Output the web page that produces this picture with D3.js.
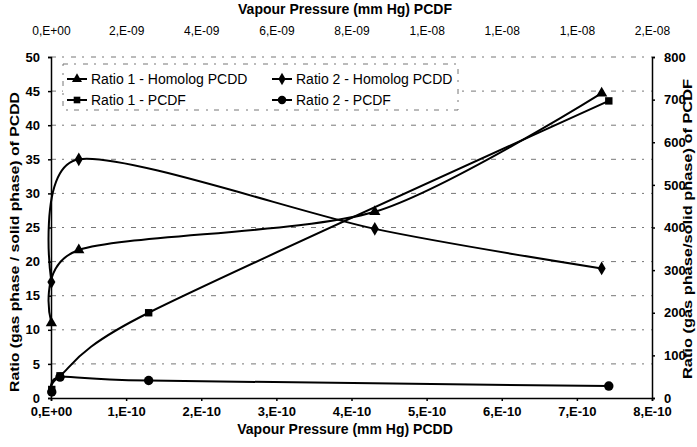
<!DOCTYPE html>
<html>
<head>
<meta charset="utf-8">
<script src="https://cdn.jsdelivr.net/npm/d3@7"></script>
<style>
body { margin: 0; background: #fff; }
text { font-family: "Liberation Sans", Arial, sans-serif; fill: #000; }
</style>
</head>
<body>
<div id="chart"></div>
<script>
//data
const pcddX = [0.005e-10, 0.37e-10, 4.31e-10, 7.33e-10];
const ratio1PCDD = [11, 21.7, 27.3, 44.7];
const ratio2PCDD = [17, 35, 24.8, 19];

const pcdfX = [0.02e-9, 0.24e-9, 2.6e-9, 14.85e-9];
const ratio1PCDF = [20, 52, 200, 697];
const ratio2PCDF = [14, 49, 41, 28];

const bottomTicks = [0, 1e-10, 2e-10, 3e-10, 4e-10, 5e-10, 6e-10, 7e-10, 8e-10];
const bottomLabels = ['0,E+00','1,E-10','2,E-10','3,E-10','4,E-10','5,E-10','6,E-10','7,E-10','8,E-10'];
const topTicks = [0, 2e-9, 4e-9, 6e-9, 8e-9, 10e-9, 12e-9, 14e-9, 16e-9];
const topLabels = ['0,E+00','2,E-09','4,E-09','6,E-09','8,E-09','1,E-08','1,E-08','1,E-08','2,E-08'];
const leftTicks = d3.range(0, 51, 5);
const rightTicks = d3.range(0, 801, 100);

const W = 697, H = 447;
const m = {left: 51, right: 45, top: 57, bottom: 49};

const svg = d3.select('#chart')
	.append('svg')
	.attr('width', W)
	.attr('height', H);

const xB = d3.scaleLinear().domain([0, 8e-10]).range([m.left, W - m.right]);
const xT = d3.scaleLinear().domain([0, 16e-9]).range([m.left, W - m.right]);
const yL = d3.scaleLinear().domain([0, 50]).range([H - m.bottom, m.top]);
const yR = d3.scaleLinear().domain([0, 800]).range([H - m.bottom, m.top]);

//gridlines, broken like the scan
svg.append('g')
	.selectAll('line')
	.data(leftTicks.filter(d => d > 0))
	.join('line')
	.attr('x1', m.left)
	.attr('x2', W - m.right)
	.attr('y1', d => yL(d))
	.attr('y2', d => yL(d))
	.style('stroke', '#777')
	.style('stroke-width', '1px')
	.style('stroke-dasharray', '5,6,2,7');

//axes
const bottomAxis = d3.axisBottom(xB)
	.tickValues(bottomTicks)
	.tickFormat((d, i) => bottomLabels[i])
	.tickSize(3);
const gB = svg.append('g')
	.attr('transform', 'translate(0,' + (H - m.bottom) + ')')
	.call(bottomAxis);
gB.selectAll('text').attr('dy', '0.95em').style('font-size', '13px').style('font-weight', 'bold');

const topAxis = d3.axisTop(xT)
	.tickValues(topTicks)
	.tickFormat((d, i) => topLabels[i])
	.tickSize(0)
	.tickPadding(22);
const gT = svg.append('g')
	.attr('transform', 'translate(0,' + m.top + ')')
	.call(topAxis);
gT.select('.domain').remove();
gT.selectAll('text').style('font-size', '12px');

const gL = svg.append('g')
	.attr('transform', 'translate(' + m.left + ',0)')
	.call(d3.axisLeft(yL).tickValues(leftTicks).tickSize(3).tickPadding(8));
gL.selectAll('text').style('font-size', '13px').style('font-weight', 'bold');

const gR = svg.append('g')
	.attr('transform', 'translate(' + (W - m.right) + ',0)')
	.call(d3.axisRight(yR).tickValues(rightTicks).tickSize(3).tickPadding(9));
gR.selectAll('text').style('font-size', '13px').style('font-weight', 'bold');

svg.selectAll('.domain, .tick line').style('stroke', '#000').style('stroke-width', '1.5px');
svg.selectAll('.tick text').style('font-family', '"Liberation Sans", Arial, sans-serif');

//axis titles
svg.append('text')
	.attr('x', 345)
	.attr('y', 14)
	.attr('text-anchor', 'middle')
	.style('font-size', '14px')
	.style('font-weight', 'bold')
	.text('Vapour Pressure (mm Hg) PCDF');

svg.append('text')
	.attr('x', 345)
	.attr('y', 434)
	.attr('text-anchor', 'middle')
	.style('font-size', '14px')
	.style('font-weight', 'bold')
	.text('Vapour Pressure (mm Hg) PCDD');

//the scan stretches the vertical titles
svg.append('text')
	.attr('transform', 'translate(19,' + 242 + ') rotate(-90)')
	.attr('text-anchor', 'middle')
	.attr('textLength', 300)
	.attr('lengthAdjust', 'spacingAndGlyphs')
	.style('font-size', '13px')
	.style('font-weight', 'bold')
	.text('Ratio (gas phase / solid phase) of PCDD');

svg.append('text')
	.attr('transform', 'translate(692,' + 229 + ') rotate(-90)')
	.attr('text-anchor', 'middle')
	.attr('textLength', 300)
	.attr('lengthAdjust', 'spacingAndGlyphs')
	.style('font-size', '13px')
	.style('font-weight', 'bold')
	.text('Ratio (gas phase/solid phase) of PCDF');

//series
const series = [
	{name: 'Ratio 1 - Homolog PCDD', xs: pcddX, ys: ratio1PCDD, x: xB, y: yL, sym: d3.symbolTriangle, size: 55},
	{name: 'Ratio 2 - Homolog PCDD', xs: pcddX, ys: ratio2PCDD, x: xB, y: yL, sym: d3.symbolDiamond, size: 55},
	{name: 'Ratio 1 - PCDF', xs: pcdfX, ys: ratio1PCDF, x: xT, y: yR, sym: d3.symbolSquare, size: 55},
	{name: 'Ratio 2 - PCDF', xs: pcdfX, ys: ratio2PCDF, x: xT, y: yR, sym: d3.symbolCircle, size: 70}
];

series.forEach(function(s) {
	const pts = s.xs.map((d, i) => [s.x(d), s.y(s.ys[i])]);
	svg.append('path')
		.attr('d', d3.line().curve(d3.curveCardinal.tension(0.2))(pts))
		.style('fill', 'none')
		.style('stroke', '#000')
		.style('stroke-width', '2px');
	svg.append('g')
		.selectAll('path')
		.data(pts)
		.join('path')
		.attr('transform', d => 'translate(' + d[0] + ',' + d[1] + ')')
		.attr('d', d3.symbol().type(s.sym).size(s.size))
		.style('fill', '#000');
});

//legend
const legend = svg.append('g');
legend.append('rect')
	.attr('x', 63)
	.attr('y', 64)
	.attr('width', 395)
	.attr('height', 46)
	.style('fill', '#fff')
	.style('stroke', '#777')
	.style('stroke-dasharray', '5,6,2,7');

const legPos = [[67, 79], [272, 79], [67, 100], [272, 100]];
const legOrder = [0, 1, 2, 3];
legOrder.forEach(function(k, i) {
	const s = series[k];
	const p = legPos[i];
	legend.append('line')
		.attr('x1', p[0])
		.attr('x2', p[0] + 20)
		.attr('y1', p[1])
		.attr('y2', p[1])
		.style('stroke', '#000')
		.style('stroke-width', '2px');
	legend.append('path')
		.attr('transform', 'translate(' + (p[0] + 10) + ',' + p[1] + ')')
		.attr('d', d3.symbol().type(s.sym).size(s.size * 0.8))
		.style('fill', '#000');
	legend.append('text')
		.attr('x', p[0] + 24)
		.attr('y', p[1] + 5)
		.style('font-size', '14px')
		.text(s.name);
});
</script>
</body>
</html>
